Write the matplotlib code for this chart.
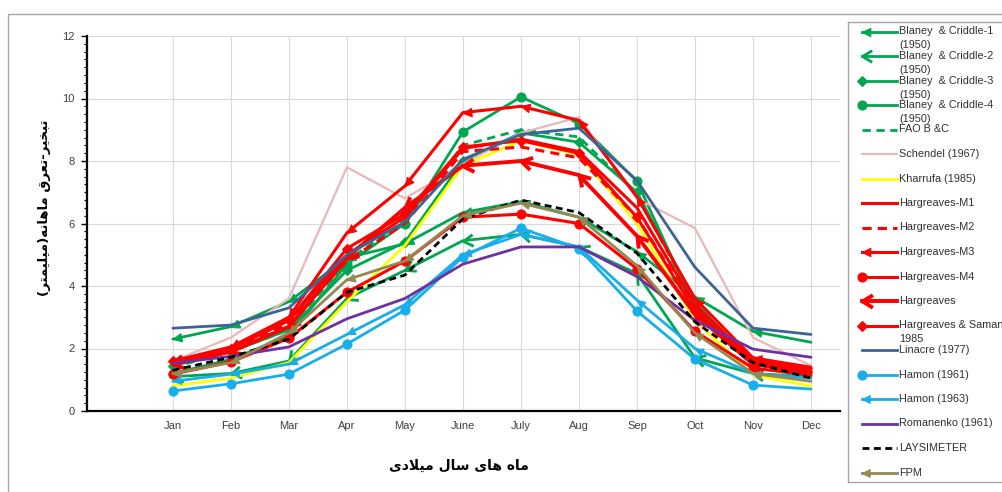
#!/usr/bin/env python3
"""Monthly evapotranspiration by estimation method vs. lysimeter (line chart)."""

import matplotlib
matplotlib.use("Agg")
import matplotlib.pyplot as plt
import numpy as np
from matplotlib.markers import MarkerStyle
from matplotlib.path import Path
from matplotlib.patches import Rectangle
from matplotlib.ticker import MultipleLocator

MONTHS = ["Jan", "Feb", "Mar", "Apr", "May", "June",
          "July", "Aug", "Sep", "Oct", "Nov", "Dec"]

BC1 = [2.3, 2.7, 3.5, 4.9, 5.35, 6.35, 6.7, 6.2, 5.1, 3.65, 2.55, 2.2]
BC2 = [1.1, 1.2, 1.6, 3.6, 4.5, 5.45, 5.65, 5.25, 4.4, 1.7, 1.2, 1.1]
BC3 = [1.45, 1.9, 2.6, 4.5, 5.4, 8.0, 8.9, 8.6, 7.0, 3.5, 1.5, 1.2]
BC4 = [1.2, 1.65, 2.4, 4.7, 6.0, 8.93, 10.05, 9.2, 7.35, 3.3, 1.5, 1.2]
FAO_BC = [1.4, 1.9, 2.6, 4.8, 6.1, 8.5, 9.0, 8.77, 6.95, 3.4, 1.6, 1.25]
SCHENDEL = [1.6, 2.35, 3.6, 7.8, 6.8, 7.9, 8.9, 9.4, 6.8, 5.85, 2.35, 1.45]
KHARRUFA = [0.8, 1.05, 1.55, 3.5, 5.3, 7.85, 8.65, 8.2, 6.0, 2.9, 1.15, 0.8]
HARG_M1 = [1.55, 2.0, 2.9, 5.0, 6.2, 8.4, 8.7, 8.3, 6.5, 3.4, 1.6, 1.35]
HARG_M2 = [1.5, 1.95, 2.8, 4.8, 6.0, 8.3, 8.45, 8.1, 6.2, 3.3, 1.55, 1.3]
HARG_M3 = [1.6, 2.05, 3.0, 5.7, 7.2, 9.55, 9.75, 9.3, 6.85, 3.6, 1.7, 1.4]
HARG_M4 = [1.18, 1.57, 2.33, 3.8, 4.8, 6.2, 6.3, 6.0, 4.55, 2.55, 1.37, 1.15]
HARG = [1.5, 1.9, 2.7, 4.9, 6.5, 7.85, 8.0, 7.55, 5.6, 3.1, 1.5, 1.25]
HARG_SAMAN = [1.6, 2.0, 2.9, 5.2, 6.3, 8.45, 8.65, 8.25, 6.2, 3.2, 1.6, 1.35]
LINACRE = [2.65, 2.75, 3.3, 5.0, 6.05, 8.05, 8.85, 9.05, 7.38, 4.6, 2.65, 2.45]
HAMON_61 = [0.64, 0.87, 1.18, 2.14, 3.23, 4.93, 5.85, 5.2, 3.2, 1.66, 0.83, 0.7]
HAMON_63 = [0.95, 1.18, 1.5, 2.45, 3.4, 5.0, 5.65, 5.25, 3.55, 2.0, 1.2, 1.05]
ROMANENKO = [1.53, 1.75, 2.05, 2.95, 3.6, 4.7, 5.25, 5.25, 4.3, 2.9, 1.98, 1.72]
LYSIMETER = [1.3, 1.72, 2.3, 3.8, 4.35, 6.15, 6.75, 6.35, 5.05, 2.85, 1.55, 1.05]
FPM = [1.2, 1.55, 2.5, 4.2, 4.8, 6.25, 6.65, 6.2, 4.65, 2.5, 1.2, 0.95]

LABELS = ["Blaney  & Criddle-1\n(1950)", "Blaney  & Criddle-2\n(1950)",
          "Blaney  & Criddle-3\n(1950)", "Blaney  & Criddle-4\n(1950)",
          "FAO B &C", "Schendel (1967)", "Kharrufa (1985)",
          "Hargreaves-M1", "Hargreaves-M2", "Hargreaves-M3", "Hargreaves-M4",
          "Hargreaves", "Hargreaves & Saman\n1985", "Linacre (1977)",
          "Hamon (1961)", "Hamon (1963)", "Romanenko (1961)",
          "LAYSIMETER", "FPM"]
VALUES = [BC1, BC2, BC3, BC4, FAO_BC, SCHENDEL, KHARRUFA,
          HARG_M1, HARG_M2, HARG_M3, HARG_M4, HARG, HARG_SAMAN, LINACRE,
          HAMON_61, HAMON_63, ROMANENKO, LYSIMETER, FPM]

Y_LABEL = "تبخیر-تعرق ماهانه(میلیمتر)"
X_LABEL = "ماه های سال میلادی"

GREEN = "#00A650"
RED = "#FF0000"
LBLUE = "#18AEEA"
# color, linewidth, dashes (None = solid), end marker, marker size
STYLES = [
    (GREEN, 2.0, None, "arrow", 12),
    (GREEN, 2.0, None, "open", 14),
    (GREEN, 2.0, None, "diamond", 5),
    (GREEN, 2.0, None, "oval", 6.5),
    (GREEN, 2.0, (3, 2), None, 0),
    ("#E6B9B8", 1.6, None, None, 0),
    ("#FFFF00", 2.0, None, None, 0),
    (RED, 2.2, None, None, 0),
    (RED, 2.2, (3, 2), None, 0),
    (RED, 2.2, None, "arrow", 12),
    (RED, 2.2, None, "oval", 6.5),
    (RED, 2.8, None, "open", 15),
    (RED, 2.2, None, "diamond", 5),
    ("#3C6497", 2.0, None, None, 0),
    (LBLUE, 2.0, None, "oval", 6.5),
    (LBLUE, 2.0, None, "arrow", 11),
    ("#7030A0", 2.0, None, None, 0),
    ("black", 2.0, (2.5, 1.6), None, 0),
    ("#938953", 2.0, None, "arrow", 11),
]

ARROW = Path([(0, 0), (1, 0.5), (1, -0.5), (0, 0)],
             [Path.MOVETO, Path.LINETO, Path.LINETO, Path.CLOSEPOLY])
OPEN_ARROW = Path([(1, 0.6), (0, 0), (1, -0.6)],
                  [Path.MOVETO, Path.LINETO, Path.LINETO])

# isolated, final, initial, medial presentation forms
FORMS = {
    "ا": ("\uFE8D", "\uFE8E", None, None),
    "ب": ("\uFE8F", "\uFE90", "\uFE91", "\uFE92"),
    "ت": ("\uFE95", "\uFE96", "\uFE97", "\uFE98"),
    "خ": ("\uFEA5", "\uFEA6", "\uFEA7", "\uFEA8"),
    "د": ("\uFEA9", "\uFEAA", None, None),
    "ر": ("\uFEAD", "\uFEAE", None, None),
    "س": ("\uFEB1", "\uFEB2", "\uFEB3", "\uFEB4"),
    "ع": ("\uFEC9", "\uFECA", "\uFECB", "\uFECC"),
    "ق": ("\uFED5", "\uFED6", "\uFED7", "\uFED8"),
    "ل": ("\uFEDD", "\uFEDE", "\uFEDF", "\uFEE0"),
    "م": ("\uFEE1", "\uFEE2", "\uFEE3", "\uFEE4"),
    "ن": ("\uFEE5", "\uFEE6", "\uFEE7", "\uFEE8"),
    "ه": ("\uFEE9", "\uFEEA", "\uFEEB", "\uFEEC"),
    "ی": ("\uFBFC", "\uFBFD", "\uFBFE", "\uFBFF"),
}


def shape_fa(text):
    """Very small Persian shaper: contextual forms + visual (reversed) order."""
    def joins_next(c):
        return c in FORMS and FORMS[c][2] is not None

    out = []
    i = 0
    while i < len(text):
        c = text[i]
        if c not in FORMS:
            out.append(c)
            i += 1
            continue
        conn_prev = i > 0 and joins_next(text[i - 1])
        if c == "ل" and i + 1 < len(text) and text[i + 1] == "ا":
            out.append("\uFEFC" if conn_prev else "\uFEFB")
            i += 2
            continue
        nxt = text[i + 1] if i + 1 < len(text) else ""
        conn_next = joins_next(c) and nxt in FORMS
        iso, fin, ini, med = FORMS[c]
        if conn_prev and conn_next:
            out.append(med)
        elif conn_prev:
            out.append(fin)
        elif conn_next:
            out.append(ini)
        else:
            out.append(iso)
        i += 1
    vis = "".join(reversed(out))
    return vis.translate(str.maketrans("()", ")("))


def end_marker(kind, angle=0.0):
    if kind == "arrow":
        return MarkerStyle(ARROW).rotated(deg=angle)
    if kind == "open":
        return MarkerStyle(OPEN_ARROW, fillstyle="none").rotated(deg=angle)
    if kind == "diamond":
        return MarkerStyle("D")
    return MarkerStyle("o")


def draw_series(ax, x, y, style, z):
    color, lw, dashes, kind, size = style
    line, = ax.plot(x, y, color=color, lw=lw, zorder=z,
                    solid_capstyle="round", solid_joinstyle="round")
    if dashes:
        line.set_dashes(dashes)
        line.set_dash_capstyle("butt")
    if kind is None:
        return
    # Excel-style segment start ends: one marker at the start of each segment
    pts = ax.transData.transform(np.column_stack([x, y]))
    for i in range(len(x) - 1):
        dx, dy = pts[i + 1] - pts[i]
        ang = np.degrees(np.arctan2(dy, dx))
        mk = end_marker(kind, ang)
        ax.plot([x[i]], [y[i]], ls="none", marker=mk, markersize=size,
                color=color, mec=color, mew=lw if kind == "open" else 0.8,
                mfc="none" if kind == "open" else color, zorder=z + 0.1)


def main():
    W, H = 1003, 492
    fig = plt.figure(figsize=(W / 100, H / 100), dpi=100, facecolor="white")
    plt.rcParams["font.family"] = ["Liberation Sans", "DejaVu Sans"]

    ax = fig.add_axes([87 / W, 1 - 411 / H, (840 - 87) / W, (411 - 36) / H])
    ax.set_xlim(-1.48, 11.5)
    ax.set_ylim(0, 12)

    x = np.arange(len(MONTHS))
    for k, (vals, style) in enumerate(zip(VALUES, STYLES)):
        draw_series(ax, x, np.asarray(vals, dtype=float), style, 3 + k * 0.2)

    ax.set_xticks(x)
    ax.set_xticklabels(MONTHS)
    ax.set_yticks(np.arange(0, 13, 2))
    ax.yaxis.set_minor_locator(MultipleLocator(0.25))
    ax.tick_params(axis="x", length=0, labelsize=8, pad=7, colors="#404040")
    ax.tick_params(axis="y", which="major", length=4, width=1.0,
                   labelsize=8, pad=5, labelcolor="#404040", color="black")
    ax.tick_params(axis="y", which="minor", length=2.5, width=0.8, color="black")
    ax.grid(True, which="major", color="#D9D9D9", lw=0.8)
    ax.set_axisbelow(True)
    for s in ("top", "right"):
        ax.spines[s].set_visible(False)
    for s in ("left", "bottom"):
        ax.spines[s].set_linewidth(1.6)
        ax.spines[s].set_color("black")

    fa_font = ["DejaVu Sans"]
    fig.text(459 / W, 1 - 466 / H, shape_fa(X_LABEL), ha="center", va="center",
             fontsize=10, fontweight="bold", family=fa_font)
    fig.text(45 / W, 1 - 208 / H, shape_fa(Y_LABEL), ha="center", va="center",
             rotation=90, fontsize=9.5, fontweight="bold", family=fa_font)

    # outer chart frame
    fig.patches.append(Rectangle((8 / W, -0.05), 1.0, 1 - 14 / H + 0.05,
                                 transform=fig.transFigure, fill=False,
                                 ec="#A6A6A6", lw=1.0))

    # legend panel (Excel-like: fixed row pitch, handle on first text line)
    lax = fig.add_axes([848 / W, 1 - 482 / H, 200 / W, (482 - 22) / H])
    lax.set_xlim(0, 200)
    lax.set_ylim(460, 0)
    lax.set_xticks([])
    lax.set_yticks([])
    for sp in lax.spines.values():
        sp.set_color("#A6A6A6")
        sp.set_linewidth(1.0)
    for k, (label, style) in enumerate(zip(LABELS, STYLES)):
        color, lw, dashes, kind, size = style
        yy = 9.5 + k * 24.5
        ln, = lax.plot([14, 49], [yy, yy], color=color, lw=lw)
        if dashes:
            ln.set_dashes(dashes)
            ln.set_dash_capstyle("butt")
        if kind is not None:
            lax.plot([14], [yy], ls="none", marker=end_marker(kind, 0),
                     markersize=size, color=color, mec=color,
                     mew=lw if kind == "open" else 0.8,
                     mfc="none" if kind == "open" else color)
        for j, part in enumerate(label.split("\n")):
            lax.text(51, yy + j * 14, part, ha="left", va="center",
                     fontsize=7.8, color="#303030")

    fig.savefig("out.png", dpi=100, facecolor="white")
    plt.close(fig)


if __name__ == "__main__":
    main()
